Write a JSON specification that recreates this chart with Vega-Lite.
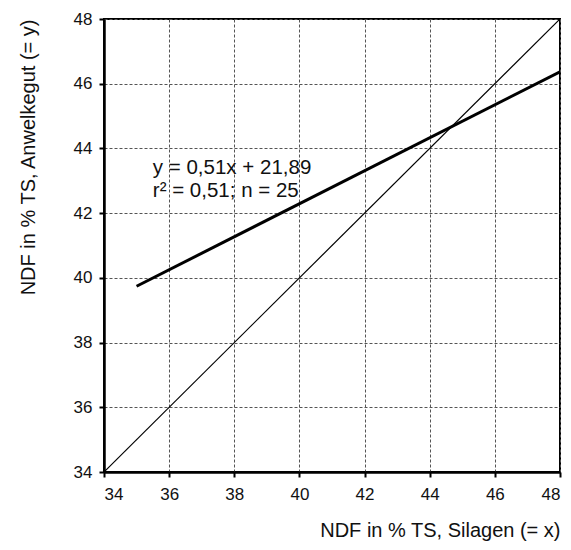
{
  "$schema": "https://vega.github.io/schema/vega-lite/v6.json",
  "width": 456,
  "height": 453,
  "autosize": {"type": "none"},
  "padding": {"left": 104, "top": 19, "right": 11, "bottom": 78},
  "background": "white",
  "config": {
    "font": "Liberation Sans",
    "view": {"stroke": "black", "strokeWidth": 2}
  },
  "datasets": {
    "lines": [
      {"series": "Regression", "x": 35, "y": 39.74},
      {"series": "Regression", "x": 48, "y": 46.37},
      {"series": "Identity", "x": 34, "y": 34},
      {"series": "Identity", "x": 48, "y": 48}
    ],
    "labels": [
      {"x": 35.5, "y": 43.38, "text": "y = 0,51x + 21,89"},
      {"x": 35.5, "y": 42.68, "text": "r² = 0,51; n = 25"}
    ]
  },
  "layer": [
    {
      "data": {"name": "lines"},
      "mark": {"type": "line", "color": "black", "clip": true},
      "encoding": {
        "x": {
          "field": "x", "type": "quantitative",
          "scale": {"domain": [34, 48], "nice": false, "zero": false},
          "axis": {
            "values": [34, 36, 38, 40, 42, 44, 46, 48],
            "title": "NDF in % TS, Silagen (= x)",
            "titleFontSize": 20, "titleFontWeight": "normal", "titleColor": "#111",
            "titleX": 456, "titleY": 58, "titleAlign": "right", "titleBaseline": "middle",
            "labelFontSize": 17, "labelColor": "#111", "labelPadding": 9,
            "tickSize": 5, "tickColor": "black", "tickWidth": 2,
            "domainColor": "black", "domainWidth": 2.5,
            "grid": true, "gridColor": "#555", "gridDash": [3, 2], "gridWidth": 1
          }
        },
        "y": {
          "field": "y", "type": "quantitative",
          "scale": {"domain": [34, 48], "nice": false, "zero": false},
          "axis": {
            "values": [34, 36, 38, 40, 42, 44, 46, 48],
            "title": "NDF in % TS, Anwelkegut (= y)",
            "titleFontSize": 20, "titleFontWeight": "normal", "titleColor": "#111",
            "titleX": -76, "titleY": 0, "titleAngle": -90, "titleAlign": "right", "titleBaseline": "middle",
            "labelFontSize": 17, "labelColor": "#111", "labelPadding": 7,
            "tickSize": 5, "tickColor": "black", "tickWidth": 2,
            "domainColor": "black", "domainWidth": 2.5,
            "grid": true, "gridColor": "#555", "gridDash": [3, 2], "gridWidth": 1
          }
        },
        "detail": {"field": "series"},
        "strokeWidth": {
          "field": "series", "type": "nominal",
          "scale": {"domain": ["Regression", "Identity"], "range": [3, 1.2]},
          "legend": null
        }
      }
    },
    {
      "data": {"name": "labels"},
      "mark": {"type": "text", "align": "left", "baseline": "middle", "fontSize": 20.5, "color": "#111"},
      "encoding": {
        "x": {"field": "x", "type": "quantitative"},
        "y": {"field": "y", "type": "quantitative"},
        "text": {"field": "text"}
      }
    }
  ]
}
